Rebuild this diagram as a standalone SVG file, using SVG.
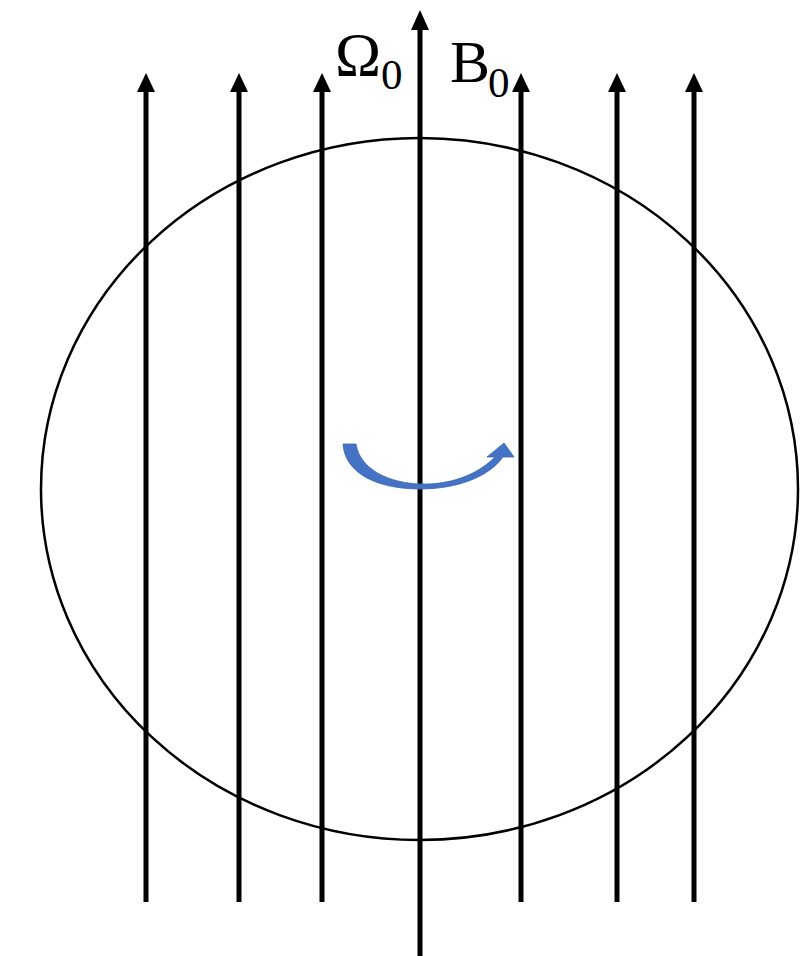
<svg xmlns="http://www.w3.org/2000/svg" width="802" height="956" viewBox="0 0 802 956">
<style>
.fl{stroke:#000;stroke-width:5;fill:none}
.lbl{font-family:"Liberation Serif","Times New Roman",serif;fill:#000}
</style>
<rect width="802" height="956" fill="#fff"/>
<ellipse id="sphere" cx="419.5" cy="489" rx="378.5" ry="351" fill="none" stroke="#000" stroke-width="2.5"/>
<g id="connectors">
<line class="fl" x1="146" y1="902" x2="146" y2="90"/>
<path d="M137,92 L146,73 L155,92 Z"/>
<line class="fl" x1="239" y1="902" x2="239" y2="90"/>
<path d="M230,92 L239,73 L248,92 Z"/>
<line class="fl" x1="322" y1="902" x2="322" y2="90"/>
<path d="M313,92 L322,73 L331,92 Z"/>
<line class="fl" x1="420" y1="956" x2="420" y2="27"/>
<path d="M411,30 L420,10 L429,30 Z"/>
<line class="fl" x1="521" y1="902" x2="521" y2="90"/>
<path d="M512,92 L521,73 L530,92 Z"/>
<line class="fl" x1="617" y1="902" x2="617" y2="90"/>
<path d="M608,92 L617,73 L626,92 Z"/>
<line class="fl" x1="694" y1="902" x2="694" y2="90"/>
<path d="M685,92 L694,73 L703,92 Z"/>
</g>
<g id="rotation">
<path d="M343,444 L356,444 C360,470 390,483 420,484 C455,485 480,472 495,457 L487,457 L504,443 L514,457 L503,457 C488,478 455,489 420,489 C380,489 345,475 343,444 Z" fill="#4472C4" stroke="#3a64b0" stroke-width="0.8"/>
</g>
<g id="label-omega">
<text class="lbl" x="335" y="75" font-size="62">Ω</text>
<text class="lbl" x="381" y="89" font-size="43">0</text>
</g>
<g id="label-b">
<text class="lbl" x="450" y="82" font-size="60">B</text>
<text class="lbl" x="488" y="97" font-size="43">0</text>
</g>
</svg>
